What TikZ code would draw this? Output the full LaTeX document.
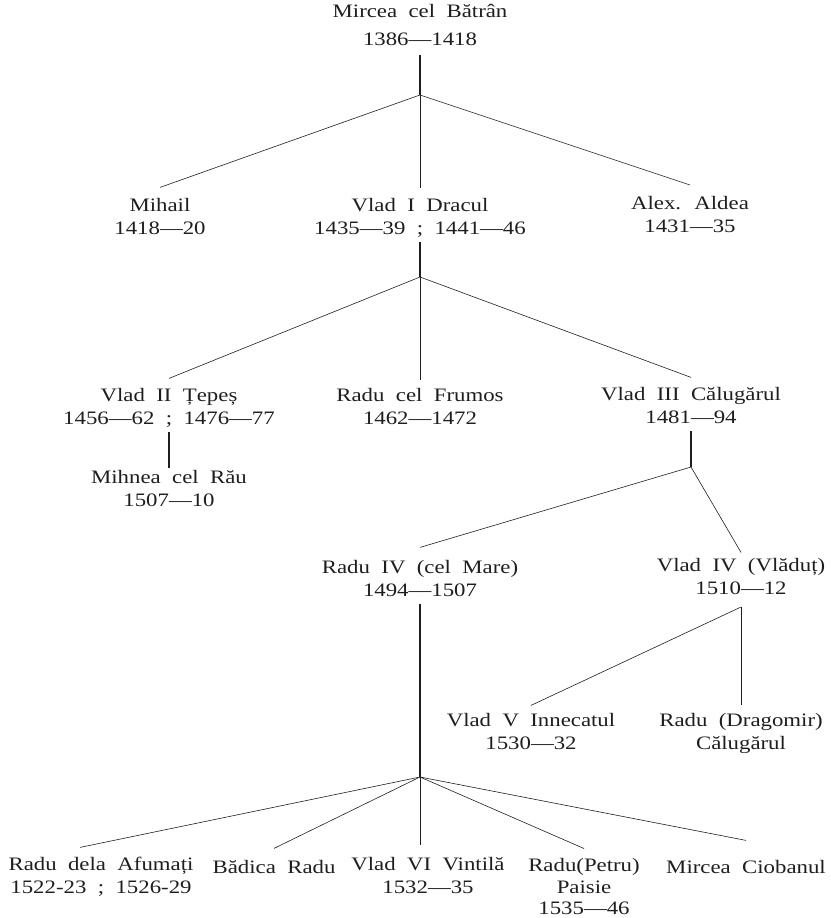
\documentclass[tikz,border=0pt]{standalone}
\usepackage{fontspec}
\setmainfont{Liberation Serif}[FakeStretch=1.2,WordSpace=2]
\usetikzlibrary{calc}
\definecolor{print-ink}{RGB}{30, 30, 30}
\newcommand{\branch}[3]{
	\draw [thin-line] (#1) -- ([yshift=#3pt]#2.north);
}

\begin{document}
\begin{tikzpicture}[x=1pt, y=-1pt,
	person/.style={align=center, inner sep=0pt, anchor=north, text=print-ink,
		font=\fontsize{19}{23}\selectfont,
		execute at begin node=\strut, execute at end node=\strut},
	thin-line/.style={draw=print-ink, line width=.6pt},
	stem/.style={draw=print-ink, line width=2pt}]
\useasboundingbox (0,0) rectangle (830,918);

% generation of Mircea
\node [person, font=\fontsize{19}{28}\selectfont] (mircea) at (420, 3.9) {Mircea cel Bătrân\\1386—1418};
\node [person] (mihail) at (160, 198.4) {Mihail\\1418—20};
\node [person] (vladI) at (420, 198.4) {Vlad I Dracul\\1435—39 ; 1441—46};
\node [person] (aldea) at (690, 196) {Alex. Aldea\\1431—35};
\coordinate (j1) at (420, 95);
\draw [stem, shorten <=1pt] (mircea.south) -- (j1);
\branch{j1}{mihail}{11}
\branch{j1}{vladI}{10}
\branch{j1}{aldea}{11}

% sons of Vlad Dracul
\node [person] (vladII) at (169, 388.4) {Vlad II Țepeș\\1456—62 ; 1476—77};
\node [person] (frumos) at (420, 388.4) {Radu cel Frumos\\1462—1472};
\node [person] (vladIII) at (691, 387.4) {Vlad III Călugărul\\1481—94};
\node [person] (mihnea) at (169, 470.4) {Mihnea cel Rău\\1507—10};
\coordinate (j2) at (420, 277);
\draw [stem] (vladI.south) -- (j2);
\branch{j2}{vladII}{10}
\branch{j2}{frumos}{8}
\branch{j2}{vladIII}{10}
\draw [stem, shorten >=2pt] (vladII.south) -- (mihnea.north);

% sons of Vlad Calugarul
\node [person] (raduIV) at (420, 560.4) {Radu IV (cel Mare)\\1494—1507};
\node [person] (vladIV) at (741, 558.4) {Vlad IV (Vlăduț)\\1510—12};
\coordinate (j3) at (691, 467);
\draw [stem] (vladIII.south) -- (j3);
\branch{j3}{raduIV}{13}
\branch{j3}{vladIV}{6}

\node [person] (vladV) at (531, 713.4) {Vlad V Innecatul\\1530—32};
\node [person] (dragomir) at (741, 713.4) {Radu (Dragomir)\\Călugărul};
\coordinate (j5) at (741, 607);
\branch{j5}{vladV}{8}
\branch{j5}{dragomir}{8}

% sons of Radu cel Mare
\node [person] (afumati) at (101, 857.4) {Radu dela Afumați\\1522-23 ; 1526-29};
\node [person] (badica) at (274, 857.4) {Bădica Radu};
\node [person] (vladVI) at (428, 857.4) {Vlad VI Vintilă\\1532—35};
\node [person, font=\fontsize{19}{21.5}\selectfont] (paisie) at (584, 858.5) {Radu(Petru)\\Paisie\\1535—46};
\node [person] (ciobanul) at (746, 857.4) {Mircea Ciobanul};
\coordinate (j4) at (420, 777);
\draw [stem] (raduIV.south) -- (j4);
\draw [thin-line] (j4) -- ([xshift=-21pt, yshift=10pt]afumati.north);
\branch{j4}{badica}{9}
\draw [thin-line] (j4) -- ($(j4 |- vladVI.north)+(0,-12)$);
\branch{j4}{paisie}{10}
\branch{j4}{ciobanul}{17}
\end{tikzpicture}
\end{document}
